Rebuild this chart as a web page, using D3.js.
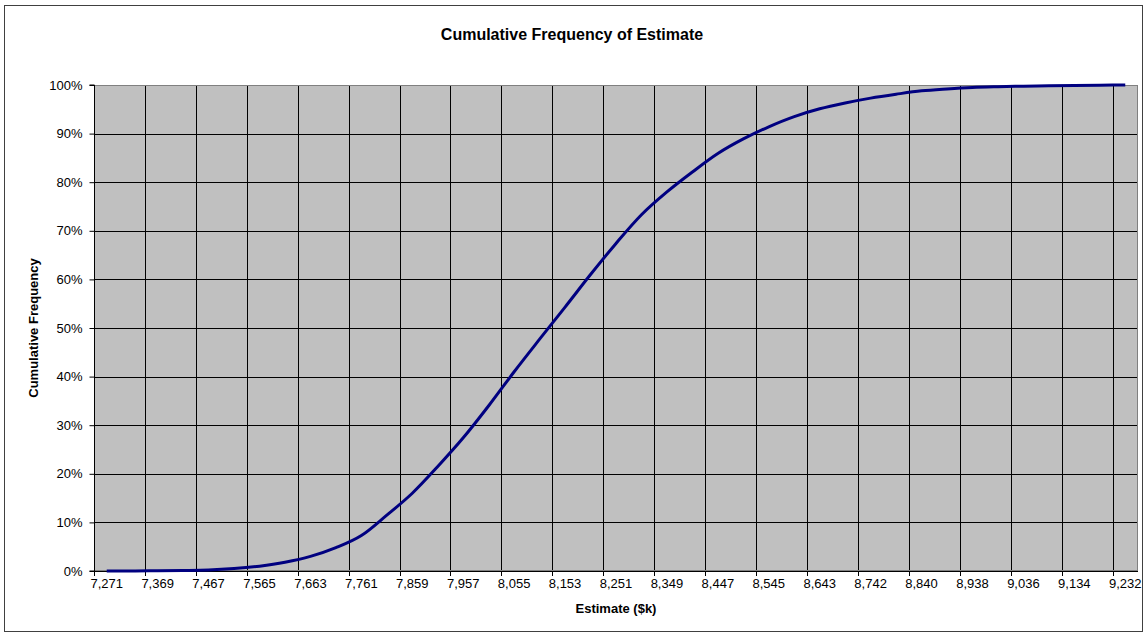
<!DOCTYPE html>
<html>
<head>
<meta charset="utf-8">
<script src="https://cdn.jsdelivr.net/npm/d3@7"></script>
<style>
  html, body { margin: 0; padding: 0; background: #fff; }
  svg { display: block; font-family: "Liberation Sans", Arial, sans-serif; }
</style>
</head>
<body>
<svg id="chart" width="1144" height="633"></svg>
<script>
// ---- Data ----
const categories = [7271, 7320, 7369, 7418, 7467, 7516, 7565, 7614, 7663, 7712,
  7761, 7810, 7859, 7908, 7957, 8006, 8055, 8104, 8153, 8202,
  8251, 8300, 8349, 8398, 8447, 8496, 8545, 8594, 8643, 8692,
  8742, 8791, 8840, 8889, 8938, 8987, 9036, 9085, 9134, 9183, 9232];
const cumulativePct = [0.0, 0.0, 0.05, 0.1, 0.2, 0.5, 1.0, 1.8, 3.0, 4.8,
  7.3, 11.5, 16.0, 21.5, 27.4, 34.0, 41.0, 47.7, 54.3, 61.0,
  67.4, 73.3, 78.0, 82.1, 85.9, 88.9, 91.4, 93.5, 95.1, 96.3,
  97.3, 98.1, 98.8, 99.2, 99.5, 99.65, 99.75, 99.85, 99.9, 99.95, 100.0];
const xTickLabels = ["7,271", "7,369", "7,467", "7,565", "7,663", "7,761", "7,859", "7,957",
  "8,055", "8,153", "8,251", "8,349", "8,447", "8,545", "8,643", "8,742", "8,840",
  "8,938", "9,036", "9,134", "9,232"];
const yTicks = [0, 10, 20, 30, 40, 50, 60, 70, 80, 90, 100];

const titleText = "Cumulative Frequency of Estimate";
const xTitle = "Estimate ($k)";
const yTitle = "Cumulative Frequency";

// ---- Layout ----
const W = 1144, H = 633;
const plot = { left: 94, right: 1138, top: 85, bottom: 571 };

const svg = d3.select("#chart");

// outer border
svg.append("rect")
  .attr("x", 4.5).attr("y", 5.5)
  .attr("width", 1138).attr("height", 626)
  .attr("fill", "#fff").attr("stroke", "#404040").attr("stroke-width", 1);

const x = d3.scaleBand().domain(d3.range(categories.length))
  .range([plot.left, plot.right]).paddingInner(0).paddingOuter(0);
const y = d3.scaleLinear().domain([0, 100]).range([plot.bottom, plot.top]);

// plot background
svg.append("rect")
  .attr("x", plot.left).attr("y", plot.top)
  .attr("width", plot.right - plot.left).attr("height", plot.bottom - plot.top)
  .attr("fill", "#c0c0c0");

const grid = svg.append("g").attr("shape-rendering", "crispEdges");
// horizontal grid
grid.selectAll("line.h").data(yTicks.filter(d => d > 0 && d < 100)).enter().append("line")
  .attr("x1", plot.left).attr("x2", plot.right)
  .attr("y1", d => Math.round(y(d)) + 0.5).attr("y2", d => Math.round(y(d)) + 0.5)
  .attr("stroke", "#000").attr("stroke-width", 1);
// vertical grid at category boundaries every 2 categories
const vIdx = d3.range(2, categories.length, 2);
grid.selectAll("line.v").data(vIdx).enter().append("line")
  .attr("x1", d => Math.round(x(d)) + 0.5).attr("x2", d => Math.round(x(d)) + 0.5)
  .attr("y1", plot.top).attr("y2", plot.bottom)
  .attr("stroke", "#000").attr("stroke-width", 1);

// plot border
svg.append("rect")
  .attr("x", plot.left + 0.5).attr("y", plot.top + 0.5)
  .attr("width", plot.right - plot.left - 1).attr("height", plot.bottom - plot.top - 1)
  .attr("fill", "none").attr("stroke", "#808080").attr("stroke-width", 1)
  .attr("shape-rendering", "crispEdges");

// Y axis
const yAxis = d3.axisLeft(y).tickValues(yTicks).tickFormat(d => d + "%").tickSize(5).tickPadding(7);
const gy = svg.append("g").attr("transform", `translate(${plot.left + 0.5},0)`).call(yAxis);
gy.select(".domain").attr("stroke", "#000").attr("d", `M-5,${plot.top}H0V${plot.bottom}H-5`);
gy.selectAll(".tick line").attr("stroke", "#000");
gy.selectAll("text").attr("font-size", 13).attr("fill", "#000")
  .attr("font-family", "Liberation Sans, Arial, sans-serif");

// X axis: ticks at boundaries, labels at category centers
const xAxisG = svg.append("g").attr("shape-rendering", "crispEdges");
xAxisG.append("line")
  .attr("x1", plot.left).attr("x2", plot.right)
  .attr("y1", plot.bottom + 0.5).attr("y2", plot.bottom + 0.5)
  .attr("stroke", "#000");
xAxisG.selectAll("line.t").data(d3.range(0, categories.length + 1, 2).filter(d => d <= categories.length - 1)).enter().append("line")
  .attr("x1", d => Math.round(x(d)) + 0.5).attr("x2", d => Math.round(x(d)) + 0.5)
  .attr("y1", plot.bottom).attr("y2", plot.bottom + 5)
  .attr("stroke", "#000");
svg.append("g").selectAll("text").data(xTickLabels).enter().append("text")
  .attr("x", (d, i) => x(i * 2) + x.bandwidth() / 2)
  .attr("y", plot.bottom + 17)
  .attr("text-anchor", "middle")
  .attr("font-size", 13).attr("fill", "#000")
  .text(d => d);

// line
const line = d3.line()
  .x((d, i) => x(i) + x.bandwidth() / 2)
  .y(d => y(d))
  .curve(d3.curveMonotoneX);
svg.append("path").datum(cumulativePct)
  .attr("d", line)
  .attr("fill", "none")
  .attr("stroke", "#000080")
  .attr("stroke-width", 3)
  .attr("stroke-linejoin", "round");

// titles
svg.append("text").attr("x", W / 2).attr("y", 40)
  .attr("text-anchor", "middle").attr("font-size", 16).attr("font-weight", "bold")
  .text(titleText);
svg.append("text").attr("x", (plot.left + plot.right) / 2).attr("y", 613)
  .attr("text-anchor", "middle").attr("font-size", 13).attr("font-weight", "bold")
  .text(xTitle);
svg.append("text")
  .attr("transform", `translate(38,${(plot.top + plot.bottom) / 2}) rotate(-90)`)
  .attr("text-anchor", "middle").attr("font-size", 13).attr("font-weight", "bold")
  .text(yTitle);
</script>
</body>
</html>
